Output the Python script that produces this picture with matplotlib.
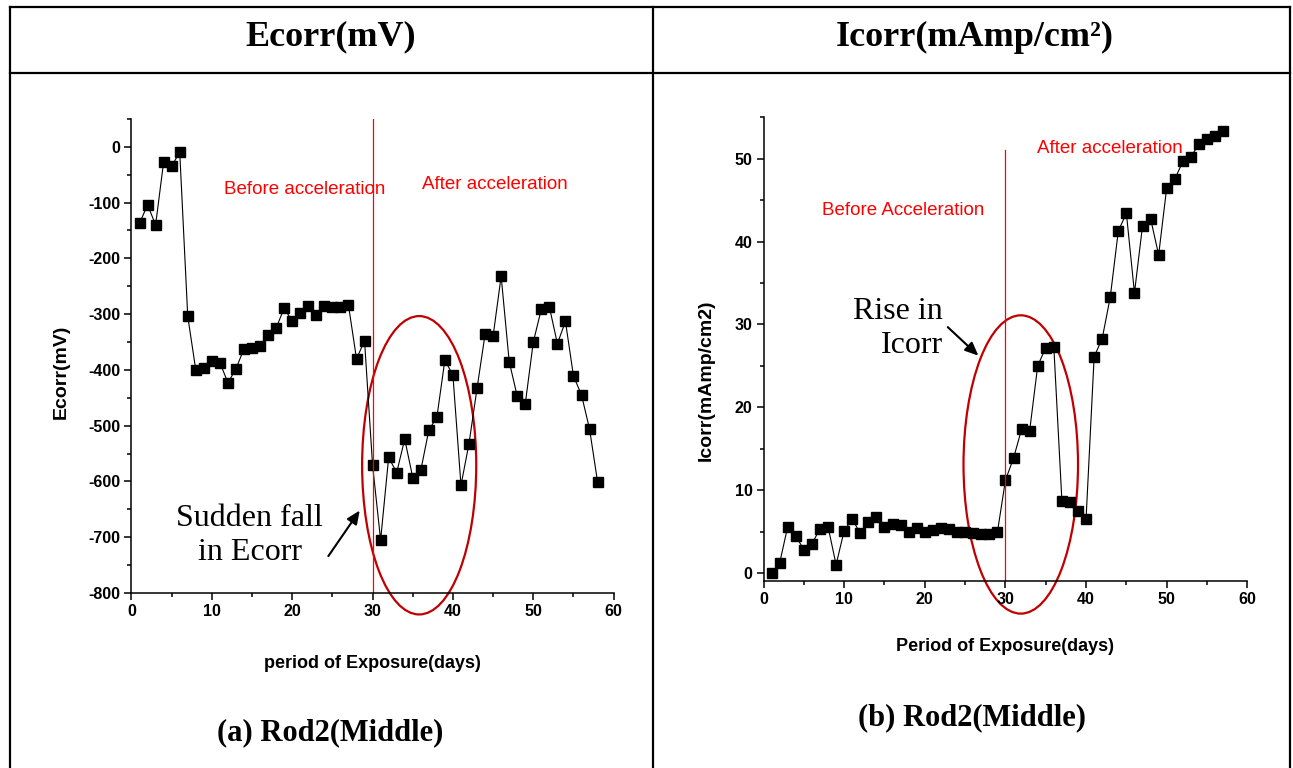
import matplotlib
matplotlib.use("Agg")
import matplotlib.pyplot as plt
from matplotlib.lines import Line2D
from matplotlib.patches import Ellipse
from matplotlib.ticker import MultipleLocator

# data
days_ecorr = list(range(1, 59))
ecorr = [-137, -104, -140, -27, -35, -9, -304, -400, -397, -384,
         -387, -423, -398, -362, -360, -357, -337, -325, -289, -313,
         -298, -285, -301, -286, -287, -287, -284, -380, -348, -571,
         -705, -557, -584, -524, -593, -580, -508, -485, -382, -410,
         -607, -532, -433, -336, -339, -232, -385, -447, -461, -350,
         -291, -287, -353, -313, -411, -445, -506, -601]

days_icorr = list(range(1, 58))
icorr = [0, 1.2, 5.6, 4.5, 2.8, 3.5, 5.35, 5.6, 1.0, 5.1,
         6.5, 4.8, 6.1, 6.8, 5.6, 5.9, 5.8, 5.0, 5.4, 4.9,
         5.2, 5.4, 5.3, 5.0, 4.95, 4.8, 4.75, 4.7, 4.9, 11.2,
         13.85, 17.35, 17.15, 25.0, 27.2, 27.3, 8.74, 8.6, 7.5, 6.56,
         26.1, 28.3, 33.3, 41.3, 43.4, 33.8, 41.9, 42.75, 38.4, 46.5,
         47.5, 49.7, 50.2, 51.8, 52.4, 52.8, 53.4]

acc_day = 30

SANS = "Liberation Sans"
SERIF = "Liberation Serif"
RED = "#ff0000"
DARKRED = "#c00000"

plt.rcParams["axes.unicode_minus"] = False

fig = plt.figure(figsize=(12.93, 7.68), dpi=100)


def style_axes(ax, xmaj, ymaj, ymin):
    for s in ["top", "right"]:
        ax.spines[s].set_visible(False)
    for s in ["left", "bottom"]:
        ax.spines[s].set_linewidth(1.1)
    ax.xaxis.set_major_locator(MultipleLocator(xmaj))
    ax.xaxis.set_minor_locator(MultipleLocator(xmaj / 2))
    ax.yaxis.set_major_locator(MultipleLocator(ymaj))
    ax.yaxis.set_minor_locator(MultipleLocator(ymin))
    ax.tick_params(which="major", direction="out", length=5, width=1.1,
                   labelsize=11.5, pad=3)
    ax.tick_params(which="minor", direction="out", length=3, width=1.1)
    for lab in ax.get_xticklabels() + ax.get_yticklabels():
        lab.set_fontfamily(SANS)
        lab.set_fontweight("bold")


# ---- (a) Ecorr ----
ax1 = fig.add_axes([0.1017, 0.2279, 0.3729, 0.6172])
ax1.plot(days_ecorr, ecorr, color="black", lw=0.8, marker="s",
         markersize=7.5, markerfacecolor="black", markeredgecolor="black")
ax1.set_xlim(0, 60)
ax1.set_ylim(-800, 50)
style_axes(ax1, 10, 100, 50)
ax1.axvline(acc_day, color=RED, lw=0.9)
ax1.set_xlabel("period of Exposure(days)", fontfamily=SANS,
               fontweight="bold", fontsize=13)
ax1.set_ylabel("Ecorr(mV)", fontfamily=SANS, fontweight="bold", fontsize=14)
ax1.xaxis.set_label_coords(0.499, -0.131)
ax1.yaxis.set_label_coords(-0.128, 0.466)
ax1.text(11.5, -77, "Before acceleration", color=RED, fontfamily=SANS,
         fontsize=13.5, va="center", ha="left")
ax1.text(36.1, -68, "After acceleration", color=RED, fontfamily=SANS,
         fontsize=13.5, va="center", ha="left")
ax1.add_patch(Ellipse((35.8, -571), 14.2, 535, fill=False,
                      edgecolor=DARKRED, lw=1.6, clip_on=False))
ax1.text(14.7, -697, "Sudden fall\nin Ecorr", fontfamily=SERIF,
         fontsize=23, ha="center", va="center", multialignment="center",
         linespacing=1.25)
ax1.annotate("", xy=(28.6, -648), xytext=(24.3, -738),
             arrowprops=dict(arrowstyle="-|>,head_length=0.8,head_width=0.35",
                             color="black", lw=1.5))

# ---- (b) Icorr ----
ax2 = fig.add_axes([0.5905, 0.2431, 0.3742, 0.6042])
ax2.plot(days_icorr, icorr, color="black", lw=0.8, marker="s",
         markersize=7.5, markerfacecolor="black", markeredgecolor="black")
ax2.set_xlim(0, 60)
ax2.set_ylim(-1, 55)
style_axes(ax2, 10, 10, 5)
ax2.plot([acc_day, acc_day], [-1, 51.1], color=RED, lw=0.9)
ax2.set_xlabel("Period of Exposure(days)", fontfamily=SANS,
               fontweight="bold", fontsize=13)
ax2.set_ylabel("Icorr(mAmp/cm2)", fontfamily=SANS, fontweight="bold",
               fontsize=14)
ax2.xaxis.set_label_coords(0.499, -0.122)
ax2.yaxis.set_label_coords(-0.10, 0.434)
ax2.text(7.25, 43.7, "Before Acceleration", color=RED, fontfamily=SANS,
         fontsize=13.5, va="center", ha="left")
ax2.text(33.9, 51.2, "After acceleration", color=RED, fontfamily=SANS,
         fontsize=13.5, va="center", ha="left")
ax2.add_patch(Ellipse((31.9, 13.1), 14.2, 36, fill=False,
                      edgecolor=DARKRED, lw=1.6, clip_on=False))
ax2.text(22.2, 29.5, "Rise in\nIcorr", fontfamily=SERIF, fontsize=23,
         ha="right", va="center", multialignment="right", linespacing=1.25)
ax2.annotate("", xy=(26.9, 26.0), xytext=(22.6, 29.9),
             arrowprops=dict(arrowstyle="-|>,head_length=0.8,head_width=0.35",
                             color="black", lw=1.5))

# ---- table frame, titles and captions ----
lw_tab = 1.6
x_l, x_m, x_r = 10 / 1293, 652.7 / 1293, 1290 / 1293
y_top, y_sep = 1 - 7.3 / 768, 1 - 73 / 768
for xs, ys in [([x_l, x_r], [y_top, y_top]),
               ([x_l, x_r], [y_sep, y_sep]),
               ([x_l, x_l], [0, y_top]),
               ([x_m, x_m], [0, y_top]),
               ([x_r, x_r], [0, y_top])]:
    fig.add_artist(Line2D(xs, ys, color="black", lw=lw_tab,
                          transform=fig.transFigure))

fig.text(331 / 1293, 1 - 37 / 768, "Ecorr(mV)", fontfamily=SERIF,
         fontweight="bold", fontsize=26, ha="center", va="center")
fig.text(975 / 1293, 1 - 37 / 768, "Icorr(mAmp/cm²)", fontfamily=SERIF,
         fontweight="bold", fontsize=26, ha="center", va="center")
fig.text(330 / 1293, 1 - 733 / 768, "(a) Rod2(Middle)", fontfamily=SERIF,
         fontweight="bold", fontsize=22, ha="center", va="center")
fig.text(972 / 1293, 1 - 718 / 768, "(b) Rod2(Middle)", fontfamily=SERIF,
         fontweight="bold", fontsize=22, ha="center", va="center")

fig.savefig("out.png", dpi=100)
